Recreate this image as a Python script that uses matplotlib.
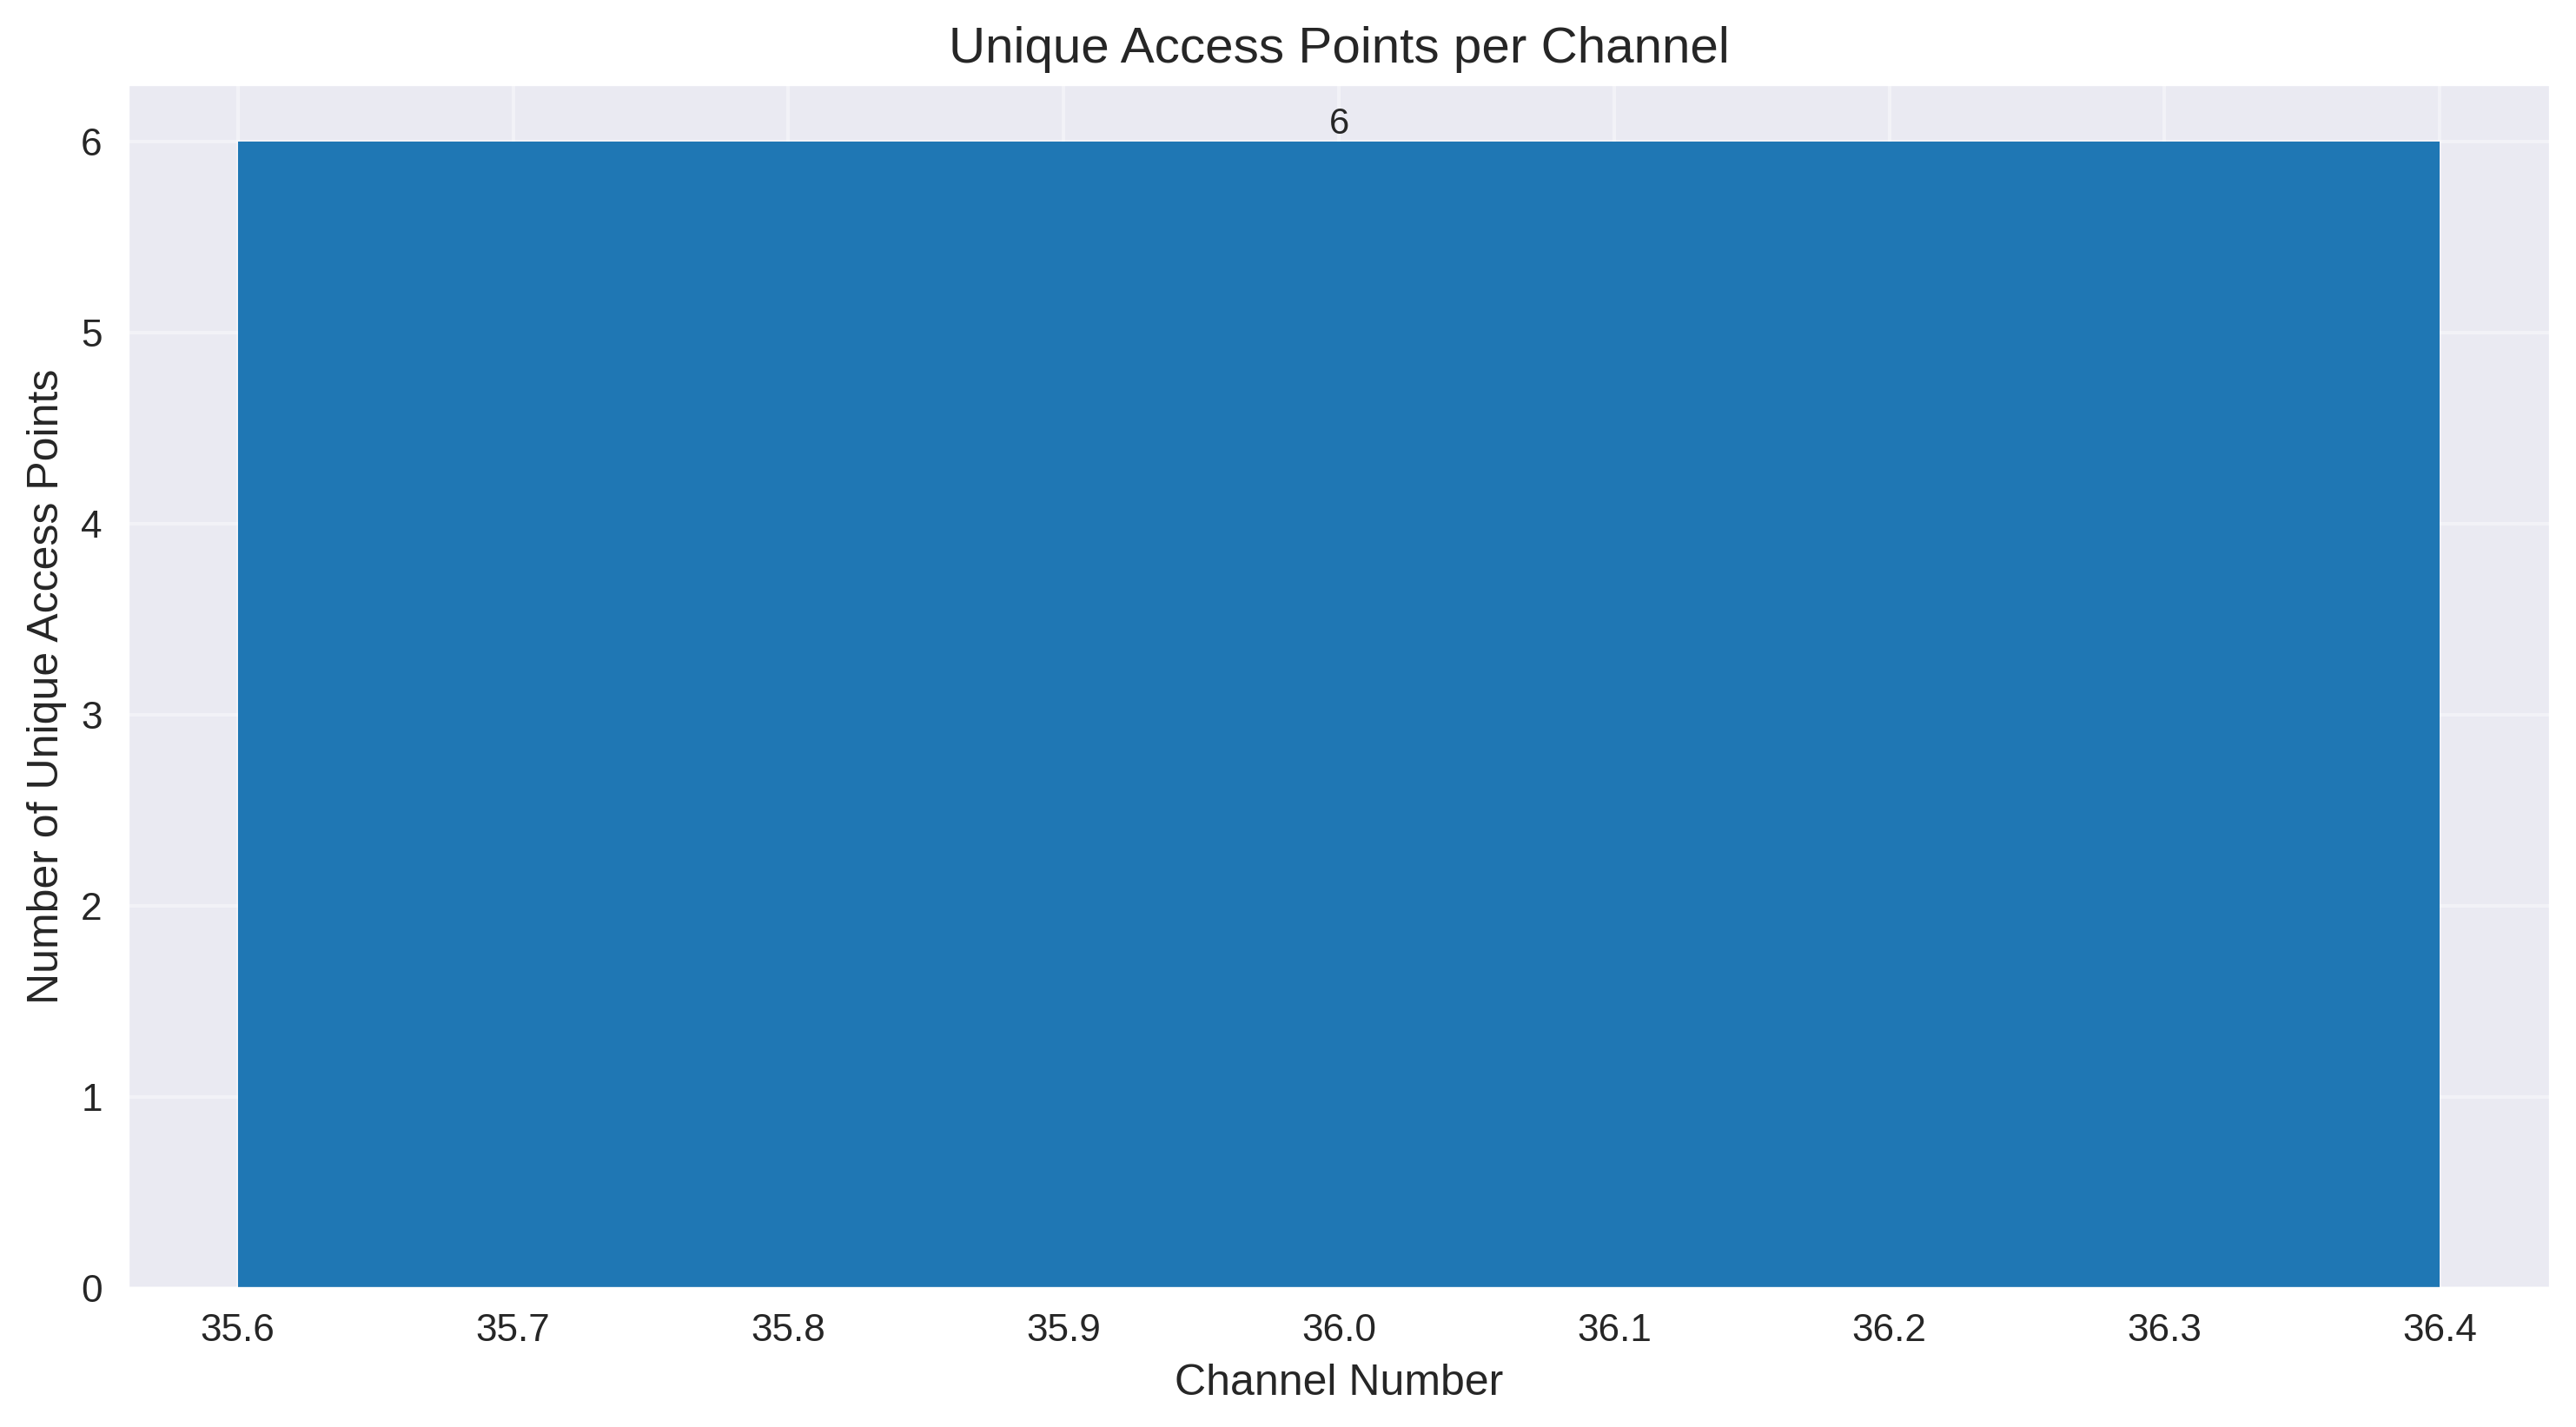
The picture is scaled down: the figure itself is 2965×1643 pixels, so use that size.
import matplotlib
matplotlib.use("Agg")
import matplotlib.pyplot as plt
import seaborn as sns

channels = [36]
unique_aps = [6]

sns.set_style("darkgrid")
plt.rcParams['font.family'] = ['Liberation Sans', 'DejaVu Sans']
plt.rcParams['text.color'] = '#262626'
plt.rcParams['axes.labelcolor'] = '#262626'
plt.rcParams['xtick.color'] = '#262626'
plt.rcParams['ytick.color'] = '#262626'

fig = plt.figure(figsize=(2965/300, 1643/300), dpi=300)
ax = fig.add_subplot(111)
fig.subplots_adjust(left=147/2965, right=2935/2965, top=1-97/1643, bottom=1-1483/1643)

bars = ax.bar(channels, unique_aps, width=0.8, color='#1f77b4', linewidth=0, zorder=2)
for b, v in zip(bars, unique_aps):
    ax.text(b.get_x() + b.get_width()/2, b.get_height(), str(v),
            ha='center', va='bottom', fontsize=10)

ax.set_title('Unique Access Points per Channel', fontsize=14)
ax.set_xlabel('Channel Number', fontsize=12)
ax.set_ylabel('Number of Unique Access Points', fontsize=12)
ax.tick_params(labelsize=10.6)
ax.grid(True, color='white', alpha=0.4, linewidth=1, zorder=0)
ax.set_axisbelow(True)

fig.savefig('out.png', dpi=300)
